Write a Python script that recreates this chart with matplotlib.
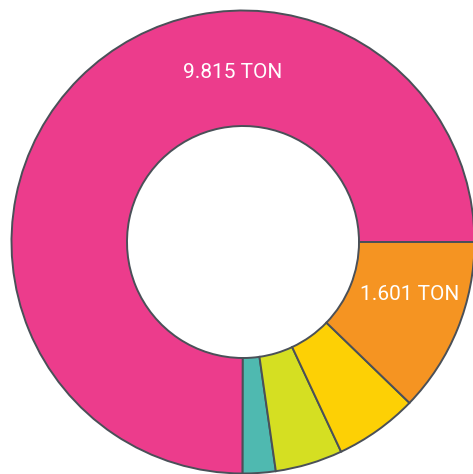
import matplotlib.pyplot as plt

categories = ["A", "B", "C", "D", "E"]
values = [9815, 300, 615, 760, 1601]
labels = ["9.815 TON", "", "", "", "1.601 TON"]
colors = ["#EC3C8C", "#4FB9B0", "#D5DF22", "#FDD005", "#F59422"]

W, H = 473, 474
cx, cy = 243, 242
R_out, R_in = 231.5, 116

fig = plt.figure(figsize=(W / 100, H / 100), dpi=100)
ax = fig.add_axes([0, 0, 1, 1])
wedges, _ = ax.pie(values, colors=colors, startangle=0, counterclock=True,
                   radius=R_out,
                   wedgeprops=dict(width=R_out - R_in, edgecolor="#4A5058", linewidth=1.4))
ax.set_xlim(-cx, W - cx)
ax.set_ylim(-(H - cy), cy)
ax.set_aspect("auto")
ax.axis("off")

label_pos = {0: (-10.3, 170), 4: (166.7, -52)}
for i, (dx, dy) in label_pos.items():
    ax.text(dx, dy, labels[i], ha="center", va="center", color="white",
            fontsize=15, family=["Roboto", "DejaVu Sans"])

fig.savefig("out.png", dpi=100)
